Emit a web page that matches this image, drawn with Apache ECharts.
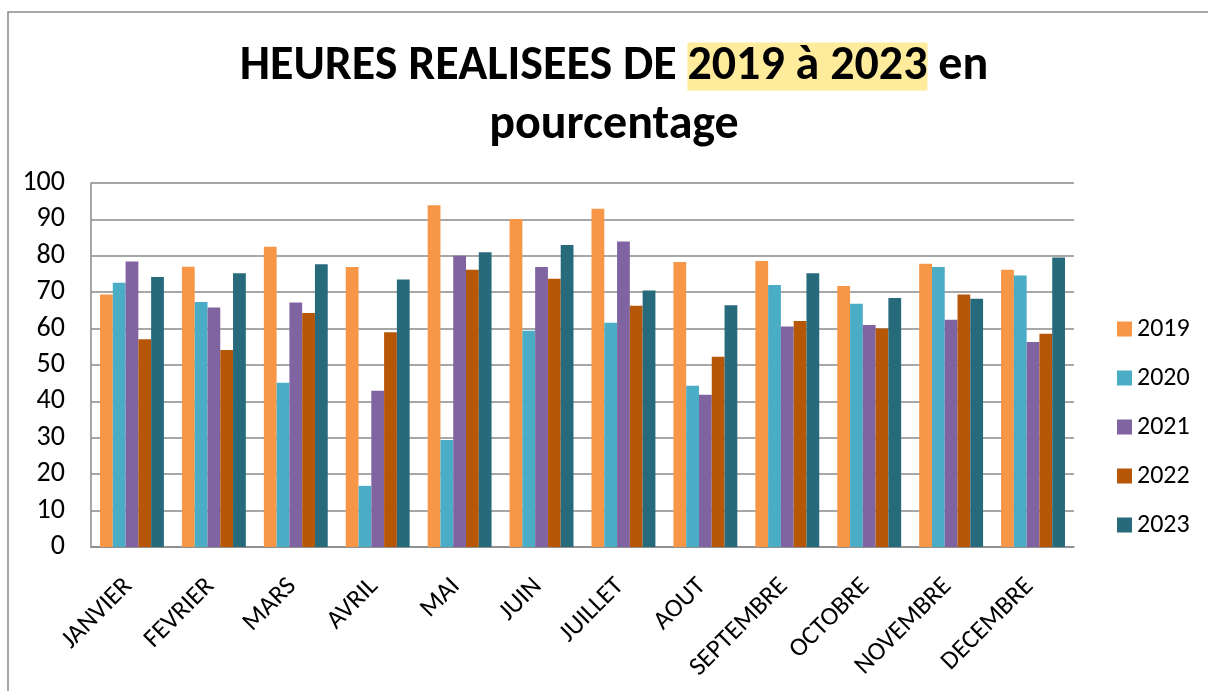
<!DOCTYPE html>
<html>
<head>
<meta charset="utf-8">
<script src="https://cdn.jsdelivr.net/npm/echarts@6/dist/echarts.min.js"></script>
<style>
  html, body { margin: 0; padding: 0; background: #fff; }
  #chart { width: 1208px; height: 691px; }
</style>
</head>
<body>
<div id="chart"></div>
<script>
var months = ['JANVIER', 'FEVRIER', 'MARS', 'AVRIL', 'MAI', 'JUIN', 'JUILLET', 'AOUT', 'SEPTEMBRE', 'OCTOBRE', 'NOVEMBRE', 'DECEMBRE'];
var years = ['2019', '2020', '2021', '2022', '2023'];
var v2019 = [69.4, 77.0, 82.5, 76.9, 93.9, 90.1, 92.9, 78.3, 78.6, 71.7, 77.8, 76.2];
var v2020 = [72.6, 67.3, 45.1, 16.8, 29.4, 59.4, 61.6, 44.3, 72.0, 66.8, 76.9, 74.6];
var v2021 = [78.4, 65.8, 67.2, 42.9, 80.0, 76.9, 83.9, 41.8, 60.6, 61.0, 62.4, 56.3];
var v2022 = [57.1, 54.1, 64.3, 59.0, 76.2, 73.7, 66.3, 52.3, 62.1, 60.0, 69.4, 58.6];
var v2023 = [74.2, 75.2, 77.7, 73.5, 81.0, 83.0, 70.5, 66.4, 75.2, 68.4, 68.2, 79.5];
var yTicks = [0, 10, 20, 30, 40, 50, 60, 70, 80, 90, 100];

var colors = ['#F79646', '#4BACC6', '#8064A2', '#B65708', '#276A7C'];
var values = [v2019, v2020, v2021, v2022, v2023];
var font = 'Carlito, "Liberation Sans Narrow", "Open Sans", sans-serif';

var series = years.map(function (y, i) {
    return {
        name: y,
        type: 'bar',
        data: values[i],
        barGap: '0%',
        barCategoryGap: '22%',
        itemStyle: { color: colors[i] }
    };
});

var option = {
    animation: false,
    color: colors,
    title: {
        left: 609,
        top: 32,
        textAlign: 'center',
        text: '{a|HEURES REALISEES DE }{h|2019 à 2023}{a| en}\n{a|pourcentage}',
        textStyle: {
            rich: {
                a: { fontFamily: font, fontWeight: 'bold', fontSize: 48, color: '#000', lineHeight: 59 },
                h: { fontFamily: font, fontWeight: 'bold', fontSize: 48, color: '#000', backgroundColor: '#FFEB9C', lineHeight: 49 }
            }
        }
    },
    legend: {
        orient: 'vertical',
        left: 1112,
        top: 311,
        itemWidth: 15,
        itemHeight: 15,
        itemGap: 23,
        icon: 'rect',
        textStyle: { fontFamily: font, fontSize: 26, lineHeight: 25, color: '#000' },
        data: years
    },
    grid: { left: 91, right: 134, top: 183, bottom: 144 },
    xAxis: {
        type: 'category',
        data: months,
        axisLine: { lineStyle: { color: '#8a8a8a', width: 1.5 } },
        axisTick: { show: false },
        axisLabel: { rotate: 45, interval: 0, fontFamily: font, fontSize: 26, color: '#000', margin: 32, padding: [0, 5, 0, 0] }
    },
    yAxis: {
        type: 'value',
        min: yTicks[0],
        max: yTicks[yTicks.length - 1],
        interval: 10,
        axisLine: { show: true, lineStyle: { color: '#8a8a8a', width: 1.5 } },
        axisTick: { show: false },
        splitLine: { lineStyle: { color: '#8a8a8a', width: 1.5 } },
        axisLabel: { fontFamily: font, fontSize: 28, color: '#000', margin: 26 }
    },
    graphic: [{
        type: 'rect',
        shape: { x: 8, y: 12, width: 1210, height: 700 },
        style: { fill: 'none', stroke: '#8a8a8a', lineWidth: 1.5 },
        silent: true
    }],
    series: series
};

var myChart = echarts.init(document.getElementById('chart'));
myChart.setOption(option);
</script>
</body>
</html>
